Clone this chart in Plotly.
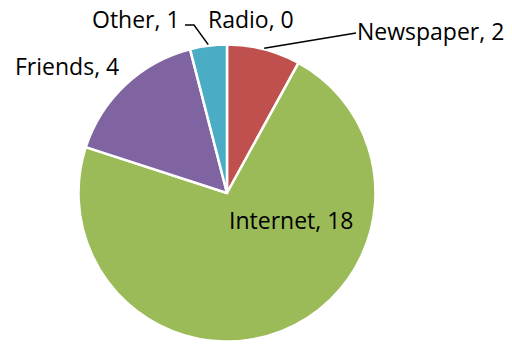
import math
import plotly.graph_objects as go

categories = ["Radio", "Newspaper", "Internet", "Friends", "Other"]
values = [0, 2, 18, 4, 1]
colors = ["#4F81BD", "#C0504D", "#9BBB59", "#8064A2", "#4BACC6"]

W, H = 512, 349
CX, CY, R = 227, 193, 148.5

def px(x):
    return x / W

def py(y):
    return 1 - y / H

fig = go.Figure(go.Pie(
    labels=categories,
    values=values,
    sort=False,
    direction="clockwise",
    rotation=0,
    marker=dict(colors=colors, line=dict(color="white", width=2.5)),
    textinfo="none",
    hoverinfo="label+value",
    showlegend=False,
    domain=dict(x=[px(CX - R), px(CX + R)], y=[py(CY + R), py(CY - R)]),
))

# mid angle (deg clockwise from 12 o'clock) of each slice, from the data
total = sum(values)
mids = {}
acc = 0
for c, v in zip(categories, values):
    mids[c] = (acc + v / 2) / total * 360
    acc += v

def anchor(cat, r=R + 1):
    a = math.radians(mids[cat])
    return CX + r * math.sin(a), CY - r * math.cos(a)

font = dict(family="Open Sans, sans-serif", size=23, color="#000000")

def label(text, x, y, xanchor):
    fig.add_annotation(text=text, x=px(x), y=py(y), xref="paper", yref="paper",
                       xanchor=xanchor, yanchor="middle", showarrow=False, font=font)

label(f"{categories[0]}, {values[0]}", 206, 19, "left")
label(f"{categories[4]}, {values[4]}", 182, 19, "right")
label(f"{categories[1]}, {values[1]}", 355, 31, "left")
label(f"{categories[3]}, {values[3]}", 13, 66, "left")
label(f"{categories[2]}, {values[2]}", 227, 220, "left")

line = dict(color="black", width=1.5)
# Newspaper leader
ax, ay = anchor("Newspaper")
fig.add_shape(type="line", xref="paper", yref="paper",
              x0=px(ax), y0=py(ay), x1=px(356), y1=py(33), line=line)
# Other leader (with elbow)
ox, oy = anchor("Other")
fig.add_shape(type="path", xref="paper", yref="paper",
              path=f"M {px(ox)},{py(oy)} L {px(194)},{py(25)} L {px(185)},{py(25)}",
              line=line)

fig.update_layout(width=W, height=H, margin=dict(l=0, r=0, t=0, b=0),
                  paper_bgcolor="white", plot_bgcolor="white")
fig.write_html("out.html", config={"displayModeBar": False},
               post_script="document.body.style.margin='0';document.body.style.overflow='hidden';")
